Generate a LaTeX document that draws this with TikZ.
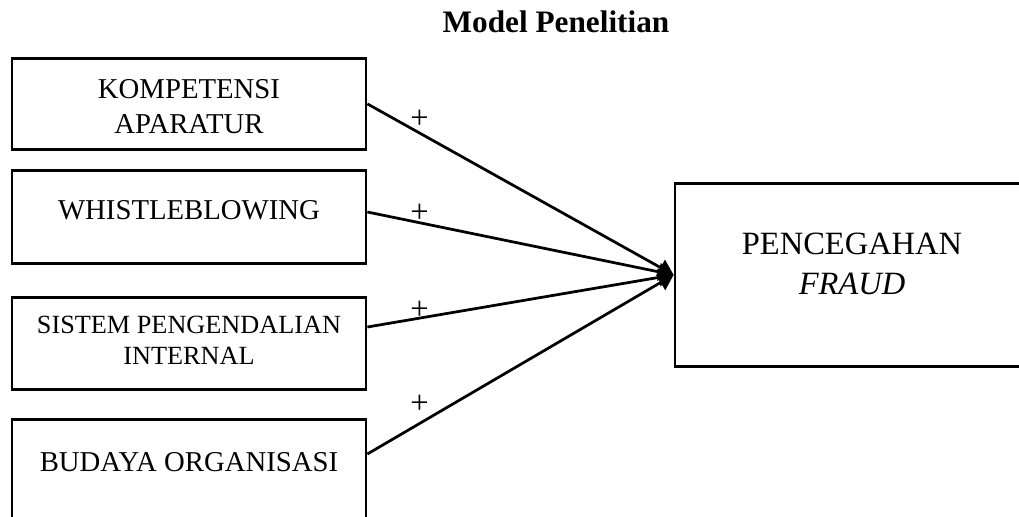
\documentclass[tikz,border=0pt]{standalone}
\usepackage{fontspec}
\setmainfont{Liberation Serif}
\usetikzlibrary{arrows.meta}

\begin{document}
\begin{tikzpicture}[x=0.4pt,y=-0.4pt]
\useasboundingbox (0,0) rectangle (1019,516);
\clip (0,0) rectangle (1019,516);
\node[font=\bfseries\fontsize{12.5}{14}\selectfont] (title) at (556,22) {Model Penelitian};
% text height/depth are taken from the last line of each box
\begin{scope}[every node/.style={draw,line width=1.1pt,align=center,inner ysep=0pt,
                                 minimum width=141.6pt,anchor=north,
                                 font=\fontsize{11.5}{13.8}\selectfont}]
    \node[text height=30pt,text depth=6.4pt] (kompetensi) at (189,57) {KOMPETENSI\\APARATUR};
    \node[text height=19.6pt,text depth=17.6pt] (whistle) at (189,169) {WHISTLEBLOWING};
    \node[text height=26.8pt,text depth=10pt,font=\fontsize{10.5}{12.4}\selectfont] (sistem) at (189,296) {SISTEM PENGENDALIAN\\INTERNAL};
    \node[text height=20.8pt,text depth=32pt] (budaya) at (189,418) {BUDAYA ORGANISASI};
    \node[text height=44.4pt,text depth=28.8pt,font=\fontsize{13}{16}\selectfont] (fraud) at (852,182) {PENCEGAHAN\\\textit{FRAUD}};
\end{scope}
\begin{scope}[>={Triangle[length=6pt,width=7pt]},
              every node/.style={inner sep=0pt,font=\fontsize{13}{15}\selectfont},
              every edge/.style={draw,line width=1.1pt}]
    \path [->] (kompetensi.east) edge node[pos=.17,yshift=5.4pt] (p1) {+} (fraud.west);
    \path [->] ([yshift=-17.2pt]whistle.north east) edge node[pos=.17,yshift=3.6pt] (p2) {+} (fraud.west);
    \path [->] ([yshift=-12.4pt]sistem.north east) edge node[pos=.17,yshift=3.2pt] (p3) {+} (fraud.west);
    \path [->] ([yshift=-14.4pt]budaya.north east) edge node[pos=.17,yshift=7.6pt] (p4) {+} (fraud.west);
\end{scope}
\end{tikzpicture}
\end{document}
